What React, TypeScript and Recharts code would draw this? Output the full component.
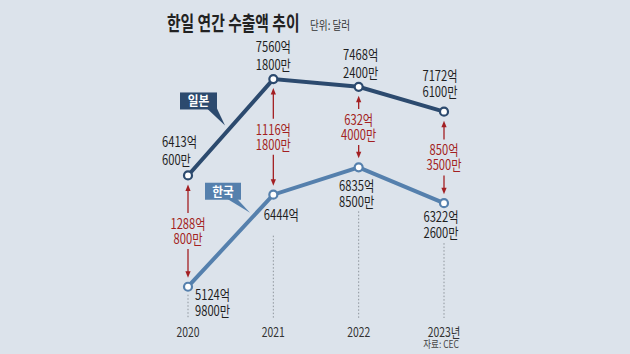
import React from 'react';
import { LineChart, Line, XAxis, YAxis } from 'recharts';

// ---- data (억 달러) ----
const years = ['2020', '2021', '2022', '2023'];
const yearTickLabels = ['2020', '2021', '2022', '2023년'];
const japanExports = [6413.06, 7560.18, 7468.24, 7172.61];
const koreaExports = [5124.98, 6444.0, 6835.85, 6322.26];
const japanLabels = [['6413억', '600만'], ['7560억', '1800만'], ['7468억', '2400만'], ['7172억', '6100만']];
const koreaLabels = [['5124억', '9800만'], ['6444억'], ['6835억', '8500만'], ['6322억', '2600만']];
const gapLabels = [['1288억', '800만'], ['1116억', '1800만'], ['632억', '4000만'], ['850억', '3500만']];
const seriesNames = { japan: '일본', korea: '한국' };

const data = years.map((y, i) => ({ year: y, japan: japanExports[i], korea: koreaExports[i] }));

// ---- layout / style ----
const W = 630;
const H = 354;
const MARGIN = { top: 40, right: 186, bottom: 6, left: 188 };
const XAXIS_H = 30;
const PLOT_BOTTOM = H - MARGIN.bottom - XAXIS_H;
const JP_DOMAIN: [number, number] = [4717, 8025];
const KR_DOMAIN: [number, number] = [4677, 8660];

const BG = '#dce3eb';
const JP_COLOR = '#2c4a6e';
const KR_COLOR = '#5580ad';
const RED = '#a31f22';
const TEXT = '#1f1f1f';
const FONT = '"Noto Sans CJK KR", "Noto Sans", sans-serif';
const SX = 0.8;

const jpLabelPos = [
  { dx: -26, anchor: 'start', dy: -28, gap: 18 },
  { dx: 0, anchor: 'middle', dy: -27, gap: 18 },
  { dx: 2, anchor: 'middle', dy: -27, gap: 18 },
  { dx: -4, anchor: 'middle', dy: -31, gap: 16 },
];
const krLabelPos = [
  { dx: 7, anchor: 'start', dy: 13, gap: 16, guide: 8 },
  { dx: 8, anchor: 'middle', dy: 25, gap: 16, guide: 41 },
  { dx: -2, anchor: 'middle', dy: 24, gap: 16, guide: 44 },
  { dx: -3, anchor: 'middle', dy: 19, gap: 16, guide: 40 },
];

// Multi-line text: first line baseline at y, following lines `gap` px lower.
function CText({ x, y, lines, anchor = 'middle', size = 14, fill = TEXT, weight = 400, sx = SX, gap = 17 }: any) {
  const arr: string[] = Array.isArray(lines) ? lines : [lines];
  return (
    <text
      transform={`translate(${x} ${y}) scale(${sx} 1)`}
      textAnchor={anchor}
      fontSize={size}
      fontFamily={FONT}
      fontWeight={weight}
      fill={fill}
    >
      {arr.map((t, i) => (
        <tspan key={i} x={0} dy={i === 0 ? 0 : gap}>
          {t}
        </tspan>
      ))}
    </text>
  );
}

function Arrow({ x, from, to }: { x: number; from: number; to: number }) {
  const dir = to > from ? 1 : -1;
  return (
    <g>
      <line x1={x} y1={from} x2={x} y2={to - dir * 5} stroke={RED} strokeWidth={1.3} />
      <polygon points={`${x},${to} ${x - 2.6},${to - dir * 6.5} ${x + 2.6},${to - dir * 6.5}`} fill={RED} />
    </g>
  );
}

function SeriesTag({ x, y, w, h, fill, label, tail }: any) {
  return (
    <g>
      <polygon points={tail} fill={fill} />
      <rect x={x} y={y} width={w} height={h} fill={fill} />
      <CText x={x + w / 2} y={y + h - 4} lines={label} size={13} fill="#ffffff" weight={700} sx={0.9} />
    </g>
  );
}

const jpY: Record<number, number> = {};

function JapanDot(props: any) {
  const { cx, cy, index } = props;
  if (cx == null || cy == null) return <g key={`jd${index}`} />;
  jpY[index] = cy;
  const p = jpLabelPos[index];
  return (
    <g key={`jd${index}`}>
      <circle cx={cx} cy={cy} r={4} fill="#fff" stroke={JP_COLOR} strokeWidth={2.2} />
      <CText x={cx + p.dx} y={cy + p.dy} anchor={p.anchor} gap={p.gap} lines={japanLabels[index]} />
      {index === 0 && (
        <SeriesTag
          x={cx - 8}
          y={cy - 83}
          w={37}
          h={17}
          fill={JP_COLOR}
          label={seriesNames.japan}
          tail={`${cx + 19},${cy - 67} ${cx + 29},${cy - 67} ${cx + 37},${cy - 50}`}
        />
      )}
    </g>
  );
}

function KoreaDot(props: any) {
  const { cx, cy, index } = props;
  if (cx == null || cy == null) return <g key={`kd${index}`} />;
  const p = krLabelPos[index];
  const jy = jpY[index];
  const mid = jy != null ? (jy + cy) / 2 : null;
  return (
    <g key={`kd${index}`}>
      <line
        x1={cx}
        y1={cy + p.guide}
        x2={cx}
        y2={PLOT_BOTTOM}
        stroke="#8e959c"
        strokeWidth={1}
        strokeDasharray="1.5 2"
      />
      {mid != null && (
        <g>
          <Arrow x={cx} from={mid - 18} to={jy + 9} />
          <Arrow x={cx} from={mid + 18} to={cy - 9} />
          <CText x={cx} y={mid - 2} gap={15} fill={RED} lines={gapLabels[index]} />
        </g>
      )}
      <circle cx={cx} cy={cy} r={4} fill="#fff" stroke={KR_COLOR} strokeWidth={2.2} />
      <CText x={cx + p.dx} y={cy + p.dy} anchor={p.anchor} gap={p.gap} lines={koreaLabels[index]} />
      {index === 0 && (
        <SeriesTag
          x={cx + 17}
          y={cy - 104}
          w={36}
          h={17}
          fill={KR_COLOR}
          label={seriesNames.korea}
          tail={`${cx + 39},${cy - 88} ${cx + 49},${cy - 88} ${cx + 62},${cy - 74}`}
        />
      )}
    </g>
  );
}

function YearTick(props: any) {
  const { x, y, payload } = props;
  const i = years.indexOf(String(payload.value));
  return <CText x={x} y={y + 11} size={13} fill="#333" lines={yearTickLabels[i]} />;
}

export default function App() {
  return (
    <div
      style={{
        position: 'absolute',
        left: 0,
        top: 0,
        width: W,
        height: H,
        background: BG,
        overflow: 'hidden',
      }}
    >
      <LineChart width={W} height={H} data={data} margin={MARGIN}>
        <XAxis
          dataKey="year"
          height={XAXIS_H}
          axisLine={false}
          tickLine={false}
          interval={0}
          tick={(p: any) => <YearTick {...p} />}
        />
        <YAxis yAxisId="jp" hide domain={JP_DOMAIN} type="number" allowDataOverflow />
        <YAxis yAxisId="kr" hide domain={KR_DOMAIN} type="number" allowDataOverflow />
        <Line
          yAxisId="jp"
          dataKey="japan"
          stroke={JP_COLOR}
          strokeWidth={4}
          isAnimationActive={false}
          dot={(p: any) => <JapanDot {...p} />}
          activeDot={false}
        />
        <Line
          yAxisId="kr"
          dataKey="korea"
          stroke={KR_COLOR}
          strokeWidth={4}
          isAnimationActive={false}
          dot={(p: any) => <KoreaDot {...p} />}
          activeDot={false}
        />
      </LineChart>
      <svg width={W} height={H} style={{ position: 'absolute', left: 0, top: 0, pointerEvents: 'none' }}>
        <CText x={167} y={31} anchor="start" size={20} weight={700} fill="#222" sx={0.74} lines="한일 연간 수출액 추이" />
        <CText x={310} y={30} anchor="start" size={12} fill="#333" sx={0.8} lines="단위: 달러" />
        <CText x={459} y={348} anchor="end" size={10} fill="#444" sx={0.85} lines="자료: CEC" />
      </svg>
    </div>
  );
}
